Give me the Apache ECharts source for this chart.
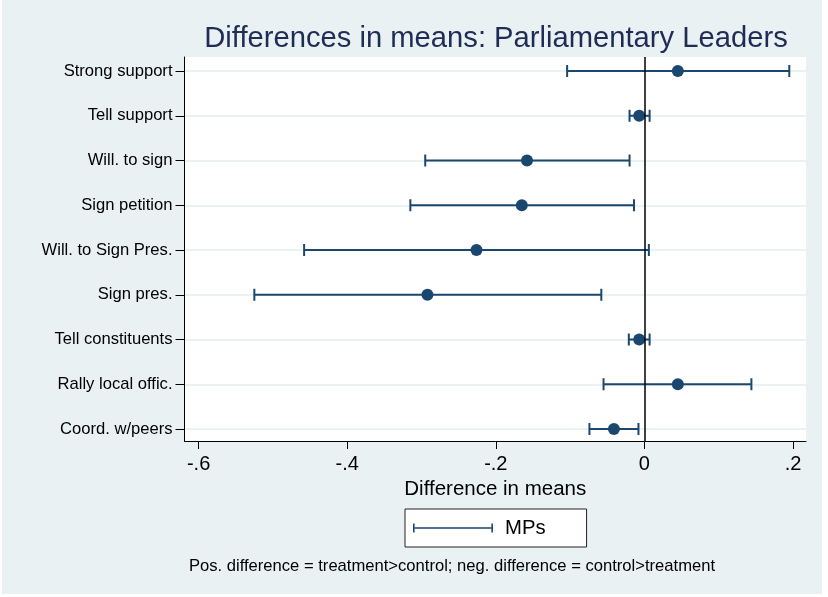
<!DOCTYPE html>
<html><head><meta charset="utf-8">
<script src="https://cdn.jsdelivr.net/npm/echarts@6/dist/echarts.min.js"></script>
<style>html,body{margin:0;padding:0;background:#fff}#c{width:828px;height:597px}</style>
</head><body><div id="c"></div>
<script>
const categories = ["Strong support","Tell support","Will. to sign","Sign petition","Will. to Sign Pres.","Sign pres.","Tell constituents","Rally local offic.","Coord. w/peers"];
const estimates = [0.045,-0.007,-0.158,-0.165,-0.226,-0.292,-0.007,0.045,-0.041];
const ciLow = [-0.104,-0.020,-0.295,-0.315,-0.458,-0.525,-0.021,-0.055,-0.074];
const ciHigh = [0.195,0.007,-0.020,-0.014,0.006,-0.058,0.007,0.144,-0.008];
const xTicks = [-0.6,-0.4,-0.2,0,0.2];
const xTickLabels = ["-.6","-.4","-.2","0",".2"];
const seriesName = "MPs";
const titleText = "Differences in means: Parliamentary Leaders";
const xAxisTitle = "Difference in means";
const noteText = "Pos. difference = treatment>control; neg. difference = control>treatment";

const navy = '#1a476f';
const FONT = '"Liberation Sans", Arial, sans-serif';
const catIdx = categories.map((c, i) => i);

const chart = echarts.init(document.getElementById('c'), null, {renderer: 'canvas'});
chart.setOption({
  backgroundColor: '#fff',
  animation: false,
  textStyle: {fontFamily: FONT},
  title: {
    text: titleText, left: 491, top: 19, textAlign: 'center',
    textStyle: {fontFamily: FONT, fontSize: 29.2, fontWeight: 'normal', color: '#1e2c56'}
  },
  graphic: [
    {type: 'rect', z: -10, silent: true, shape: {x: 2, y: 0, width: 820, height: 594}, style: {fill: '#e9f1f3'}},
    {type: 'text', x: 452, y: 566, silent: true,
     style: {text: noteText, fontFamily: FONT, fontSize: 16.6, fill: '#000', textAlign: 'center', textVerticalAlign: 'middle'}}
  ],
  legend: {
    data: [seriesName], left: 405, top: 509,
    backgroundColor: '#fff', borderColor: '#222', borderWidth: 1, borderRadius: 0,
    padding: [9, 41, 9, 8], itemWidth: 80, itemHeight: 9,
    icon: 'path://M0,0h1.6v9h-1.6z M1.6,3.7h76.8v1.6h-76.8z M78.4,0h1.6v9h-1.6z',
    textStyle: {fontFamily: FONT, fontSize: 20.3, color: '#000', padding: [0, 0, 0, 7]}
  },
  grid: {left: 184.5, right: 22, top: 57, bottom: 156, show: true, backgroundColor: '#fff', borderWidth: 0},
  xAxis: {
    type: 'value', min: -0.619, max: 0.2175,
    name: xAxisTitle, nameLocation: 'middle', nameGap: 34,
    nameTextStyle: {fontFamily: FONT, fontSize: 20.5, color: '#000'},
    axisLine: {show: true, onZero: false, lineStyle: {color: '#000', width: 1}},
    axisTick: {show: true, customValues: xTicks, length: 8, lineStyle: {color: '#000'}},
    axisLabel: {customValues: xTicks, formatter: v => xTickLabels[xTicks.findIndex(t => Math.abs(t - v) < 1e-9)],
      fontFamily: FONT, fontSize: 20, color: '#000', margin: 13},
    splitLine: {show: false}
  },
  yAxis: {
    type: 'value', inverse: true, min: -0.313, max: 8.268,
    axisLine: {show: true, onZero: false, lineStyle: {color: '#000', width: 1}},
    axisTick: {show: true, customValues: catIdx, length: 9, lineStyle: {color: '#000'}},
    axisLabel: {customValues: catIdx, formatter: v => categories[Math.round(v)],
      fontFamily: FONT, fontSize: 16.6, color: '#000', margin: 12},
    splitLine: {show: true, lineStyle: {color: '#eaf2f3', width: 2}}
  },
  series: [
    {
      name: seriesName, type: 'custom',
      itemStyle: {color: navy},
      data: categories.map((c, i) => [i, ciLow[i], ciHigh[i]]),
      encode: {x: [1, 2], y: 0},
      renderItem: function (params, api) {
        const y = api.value(0);
        const a = api.coord([api.value(1), y]);
        const b = api.coord([api.value(2), y]);
        const st = {stroke: navy, lineWidth: 2};
        return {type: 'group', children: [
          {type: 'line', shape: {x1: a[0], y1: a[1], x2: b[0], y2: b[1]}, style: st},
          {type: 'line', shape: {x1: a[0], y1: a[1] - 6, x2: a[0], y2: a[1] + 6}, style: st},
          {type: 'line', shape: {x1: b[0], y1: b[1] - 6, x2: b[0], y2: b[1] + 6}, style: st}
        ]};
      },
      z: 3
    },
    {
      name: 'est', type: 'scatter', symbol: 'circle', symbolSize: 12,
      itemStyle: {color: navy, opacity: 1},
      data: estimates.map((v, i) => [v, i]),
      z: 4,
      markLine: {
        silent: true, symbol: 'none', label: {show: false},
        lineStyle: {color: '#000', width: 1.5, type: 'solid', opacity: 1},
        data: [{xAxis: 0}]
      }
    }
  ]
});
</script></body></html>
